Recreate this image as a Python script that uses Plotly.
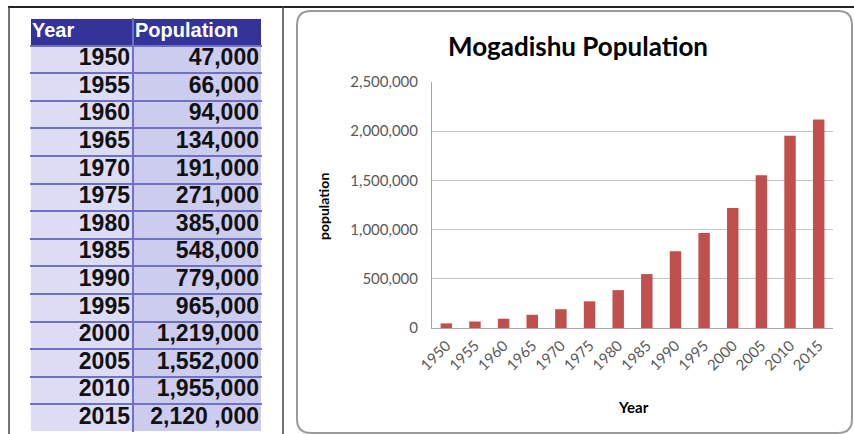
import plotly.graph_objects as go

W, H = 854, 434

years = [1950, 1955, 1960, 1965, 1970, 1975, 1980, 1985, 1990, 1995, 2000, 2005, 2010, 2015]
population = [47000, 66000, 94000, 134000, 191000, 271000, 385000, 548000,
              779000, 965000, 1219000, 1552000, 1955000, 2120000]
pop_labels = ["47,000", "66,000", "94,000", "134,000", "191,000", "271,000", "385,000",
              "548,000", "779,000", "965,000", "1,219,000", "1,552,000", "1,955,000", "2,120 ,000"]
header_labels = ["Year", "Population"]
y_ticks = [0, 500000, 1000000, 1500000, 2000000, 2500000]

# table geometry (layout, in table-axis units = pixels)
col_edges = [0, 103, 232]
n_rows = len(years) + 1


def px(x):
    return x / W


def py(y):
    return (H - y) / H


fig = go.Figure()

# ---- bar chart ----
fig.add_trace(go.Bar(
    x=[str(y) for y in years], y=population,
    marker=dict(color="#C0504D", line=dict(width=0)),
    width=0.4, showlegend=False, hoverinfo="x+y",
))

# ---- table: cell fills ----
z = [[2, 2]] + [[0, 1] for _ in years]
fig.add_trace(go.Heatmap(
    z=z, x=col_edges, y=list(range(n_rows + 1)),
    colorscale=[[0, "#DCDCF4"], [0.5, "#CCCCEE"], [1, "#333399"]],
    zmin=0, zmax=2, showscale=False, xgap=2, ygap=2, hoverinfo="skip",
    xaxis="x2", yaxis="y2",
))

# ---- table: texts ----
row_centers = [i + 1.5 for i in range(len(years))]
fig.add_trace(go.Scatter(
    x=[col_edges[1] - 3] * len(years), y=row_centers,
    text=[f"<b>{y}</b>" for y in years], mode="text", textposition="middle left",
    textfont=dict(family="Liberation Sans", size=23, color="#111111"),
    xaxis="x2", yaxis="y2", showlegend=False, hoverinfo="skip",
))
fig.add_trace(go.Scatter(
    x=[col_edges[2] - 3] * len(years), y=row_centers,
    text=[f"<b>{p}</b>" for p in pop_labels], mode="text", textposition="middle left",
    textfont=dict(family="Liberation Sans", size=23, color="#111111"),
    xaxis="x2", yaxis="y2", showlegend=False, hoverinfo="skip",
))
fig.add_trace(go.Scatter(
    x=[col_edges[0] + 2, col_edges[1] + 2], y=[0.5, 0.5],
    text=[f"<b>{h}</b>" for h in header_labels], mode="text", textposition="middle right",
    textfont=dict(family="Liberation Sans", size=20, color="white"),
    xaxis="x2", yaxis="y2", showlegend=False, hoverinfo="skip",
))

# rounded chart box
x0, x1, y0, y1, r = 297, 852, 11, 433, 14
path = (f"M {px(x0 + r)} {py(y0)} L {px(x1 - r)} {py(y0)} "
        f"Q {px(x1)} {py(y0)} {px(x1)} {py(y0 + r)} "
        f"L {px(x1)} {py(y1 - r)} Q {px(x1)} {py(y1)} {px(x1 - r)} {py(y1)} "
        f"L {px(x0 + r)} {py(y1)} Q {px(x0)} {py(y1)} {px(x0)} {py(y1 - r)} "
        f"L {px(x0)} {py(y0 + r)} Q {px(x0)} {py(y0)} {px(x0 + r)} {py(y0)} Z")

shapes = [
    dict(type="line", xref="paper", yref="paper", x0=px(8), x1=1, y0=py(7), y1=py(7),
         line=dict(color="#222222", width=2)),
    dict(type="line", xref="paper", yref="paper", x0=px(9), x1=px(9), y0=py(7), y1=0,
         line=dict(color="#444444", width=1.5)),
    dict(type="line", xref="paper", yref="paper", x0=px(283), x1=px(283), y0=py(7), y1=0,
         line=dict(color="#444444", width=1.5)),
    dict(type="path", xref="paper", yref="paper", path=path,
         line=dict(color="#9A9A9A", width=2)),
]

annotations = [
    dict(text="Mogadishu Population", x=px(578), y=py(46), xref="paper", yref="paper",
         showarrow=False, font=dict(family="Lato", size=26, color="#000000", weight="bold"),
         xanchor="center", yanchor="middle"),
    dict(text="<b>population</b>", x=px(323), y=py(207), xref="paper", yref="paper",
         showarrow=False, textangle=-90, font=dict(family="Lato", size=14, color="#000000"),
         xanchor="center", yanchor="middle"),
    dict(text="<b>Year</b>", x=px(633), y=py(407), xref="paper", yref="paper",
         showarrow=False, font=dict(family="Lato", size=15, color="#000000"),
         xanchor="center", yanchor="middle"),
]

fig.update_layout(
    width=W, height=H,
    margin=dict(l=0, r=0, t=0, b=0),
    paper_bgcolor="white", plot_bgcolor="white",
    shapes=shapes, annotations=annotations,
    showlegend=False,
    xaxis=dict(
        domain=[px(432), px(833)], type="category", anchor="y",
        tickangle=-45, tickfont=dict(family="Lato", size=15, color="#595959"),
        showline=True, linecolor="#A6A6A6", linewidth=1, showgrid=False, ticks="",
        ticklabelstandoff=2, fixedrange=True, automargin=False,
    ),
    yaxis=dict(
        domain=[py(328), py(82)], range=[0, 2500000], tickvals=y_ticks, tickformat=",",
        tickfont=dict(family="Lato", size=15, color="#595959"), anchor="x",
        showline=True, linecolor="#A6A6A6", linewidth=1,
        showgrid=True, gridcolor="#C4C4C4", gridwidth=1, zeroline=False, ticks="",
        ticklabelstandoff=10, fixedrange=True, automargin=False,
    ),
    xaxis2=dict(
        domain=[px(30), px(262)], range=[col_edges[0], col_edges[-1]], anchor="y2",
        tickvals=col_edges, showticklabels=False, showgrid=True, gridcolor="#7070C4",
        gridwidth=2, zeroline=False, showline=False, ticks="", fixedrange=True,
        automargin=False,
    ),
    yaxis2=dict(
        domain=[py(432), py(18)], range=[n_rows, 0], anchor="x2",
        tickvals=list(range(n_rows + 1)), showticklabels=False, showgrid=True,
        gridcolor="#7070C4", gridwidth=2, zeroline=False, showline=False, ticks="",
        fixedrange=True, automargin=False,
    ),
)

fig.write_html("out.html", config={"displayModeBar": False},
               post_script="document.body.style.margin='0';")
